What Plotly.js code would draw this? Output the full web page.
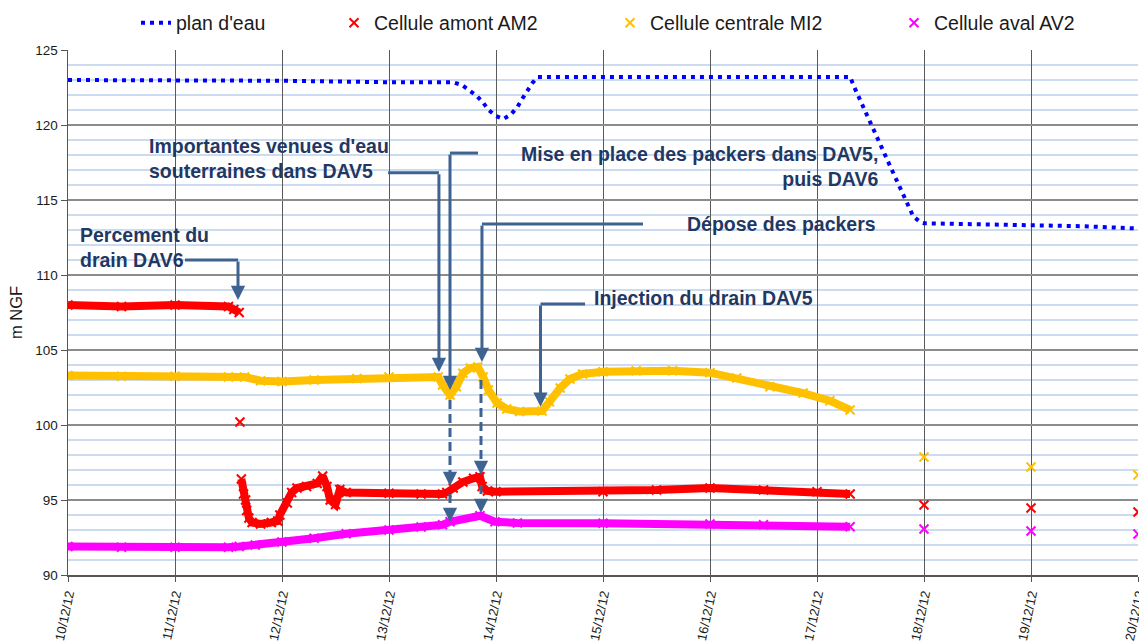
<!DOCTYPE html>
<html><head><meta charset="utf-8">
<script src="https://cdn.plot.ly/plotly-3.0.1.min.js"></script>
<style>html,body{margin:0;padding:0;background:#fff}#chart{width:1139px;height:642px}</style>
</head><body><div id="chart"></div>
<script>
// ---- data ----
const planX = ['2012-12-10 00:00','2012-12-11 00:00','2012-12-12 00:00','2012-12-13 00:00','2012-12-13 14:24','2012-12-13 16:20','2012-12-13 18:15','2012-12-13 19:40','2012-12-13 21:05','2012-12-13 22:20','2012-12-14 00:00','2012-12-14 01:40','2012-12-14 03:20','2012-12-14 04:48','2012-12-14 06:00','2012-12-14 07:00','2012-12-14 08:10','2012-12-14 09:20','2012-12-15 00:00','2012-12-16 00:00','2012-12-17 00:00','2012-12-17 07:26','2012-12-17 08:24','2012-12-17 12:00','2012-12-17 16:48','2012-12-17 21:36','2012-12-17 23:17','2012-12-18 00:00','2012-12-18 12:00','2012-12-19 00:00','2012-12-19 12:00','2012-12-20 00:00'];
const planY = [123.0,123.0,122.95,122.85,122.85,122.67,122.27,121.95,121.5,121.0,120.6,120.4,120.7,121.2,121.8,122.3,122.8,123.2,123.2,123.2,123.2,123.2,122.5,120.1,117.0,113.9,113.5,113.45,113.4,113.35,113.25,113.1];

const amontX = ['2012-12-10 00:00','2012-12-10 12:00','2012-12-11 00:00','2012-12-11 12:00','2012-12-11 13:12','2012-12-11 14:24','2012-12-11 14:30','2012-12-11 14:34','2012-12-11 14:40','2012-12-11 14:53','2012-12-11 15:22','2012-12-11 15:50','2012-12-11 16:05','2012-12-11 16:34','2012-12-11 17:17','2012-12-11 19:12','2012-12-11 21:36','2012-12-11 23:02','2012-12-11 23:31','2012-12-12 01:12','2012-12-12 02:10','2012-12-12 03:22','2012-12-12 05:31','2012-12-12 07:55','2012-12-12 09:07','2012-12-12 10:05','2012-12-12 10:48','2012-12-12 12:00','2012-12-12 12:58','2012-12-12 14:24','2012-12-13 00:00','2012-12-13 07:12','2012-12-13 12:00','2012-12-13 12:58','2012-12-13 14:24','2012-12-13 16:34','2012-12-13 18:58','2012-12-13 20:24','2012-12-13 20:53','2012-12-13 22:05','2012-12-14 00:00','2012-12-15 00:00','2012-12-15 12:00','2012-12-16 00:00','2012-12-16 12:00','2012-12-17 00:00','2012-12-17 07:26','2012-12-17 16:00','2012-12-18 00:00','2012-12-18 12:00','2012-12-19 00:00','2012-12-19 12:00','2012-12-20 00:00'];
const amontY = [108.0,107.9,108.0,107.9,107.7,107.5,null,100.2,null,96.4,95.4,95.0,94.3,93.8,93.5,93.4,93.5,93.6,94.0,94.8,95.5,95.8,95.9,96.1,96.6,95.9,95.0,94.7,95.7,95.5,95.45,95.4,95.4,95.5,95.8,96.2,96.45,96.55,95.9,95.6,95.55,95.55,95.67,95.8,95.67,95.55,95.4,null,94.67,null,94.47,null,94.2];

const centraleX = ['2012-12-10 00:00','2012-12-10 12:00','2012-12-11 00:00','2012-12-11 12:00','2012-12-11 15:36','2012-12-11 19:12','2012-12-12 00:00','2012-12-12 07:12','2012-12-12 16:48','2012-12-13 00:00','2012-12-13 11:02','2012-12-13 12:00','2012-12-13 13:41','2012-12-13 15:07','2012-12-13 16:34','2012-12-13 18:14','2012-12-13 19:55','2012-12-13 21:07','2012-12-13 22:19','2012-12-14 00:14','2012-12-14 02:24','2012-12-14 05:17','2012-12-14 10:19','2012-12-14 12:00','2012-12-14 14:24','2012-12-14 16:34','2012-12-14 19:26','2012-12-15 00:00','2012-12-15 07:26','2012-12-15 15:36','2012-12-16 00:00','2012-12-16 06:00','2012-12-16 13:26','2012-12-16 20:53','2012-12-17 02:53','2012-12-17 07:26','2012-12-17 16:00','2012-12-18 00:00','2012-12-18 12:00','2012-12-19 00:00','2012-12-19 12:00','2012-12-20 00:00'];
const centraleY = [103.3,103.25,103.25,103.2,103.2,102.95,102.9,103.0,103.1,103.2,103.2,102.67,102.0,102.55,103.45,103.8,103.87,103.2,102.33,101.47,101.07,100.9,100.93,101.55,102.47,103.07,103.4,103.55,103.62,103.62,103.49,103.13,102.55,102.13,101.62,101.0,null,97.87,null,97.2,null,96.67];

const avalX = ['2012-12-10 00:00','2012-12-10 12:00','2012-12-11 00:00','2012-12-11 12:00','2012-12-11 14:24','2012-12-11 18:00','2012-12-12 00:00','2012-12-12 07:12','2012-12-12 14:24','2012-12-13 00:00','2012-12-13 07:12','2012-12-13 12:00','2012-12-13 13:41','2012-12-13 20:24','2012-12-13 23:46','2012-12-14 04:48','2012-12-15 00:00','2012-12-16 00:00','2012-12-16 12:00','2012-12-17 07:26','2012-12-17 16:00','2012-12-18 00:00','2012-12-18 12:00','2012-12-19 00:00','2012-12-19 12:00','2012-12-20 00:00'];
const avalY = [91.9,91.85,91.85,91.85,91.9,92.0,92.2,92.45,92.75,93.0,93.2,93.35,93.55,93.95,93.55,93.47,93.45,93.4,93.35,93.22,null,93.07,null,92.93,null,92.73];

const seriesNames = ["plan d'eau", 'Cellule amont AM2', 'Cellule centrale MI2', 'Cellule aval AV2'];
const xRange = ['2012-12-10 00:00', '2012-12-20 00:00'];
const yRange = [90, 125];
const yTitle = 'm NGF';

// ---- styling ----
const FONT = '"Liberation Sans", Arial, sans-serif';
const ARROW = '#3f6391';
const NAVY = '#1f3864';

function band(x, y, color, name, leg) {
  return [
    {type:'scatter', mode:'lines', x:x, y:y, connectgaps:false, showlegend:false, hoverinfo:'skip',
     line:{color:color, width:8}},
    {type:'scatter', mode:'markers', x:x, y:y, name:name, legend:leg,
     marker:{symbol:'x-thin-open', size:9, color:color, line:{color:color, width:2}}}
  ];
}

const traces = [
  {type:'scatter', mode:'lines', x:planX, y:planY, name:seriesNames[0], legend:'legend',
   line:{color:'#0000ff', width:4, dash:'4px,5px'}},
  ...band(amontX, amontY, '#ff0000', seriesNames[1], 'legend2'),
  ...band(centraleX, centraleY, '#ffc000', seriesNames[2], 'legend3'),
  ...band(avalX, avalY, '#ff00ff', seriesNames[3], 'legend4')
];

// connectors (elbow lines) in data coordinates
function seg(x0, y0, x1, y1, dash) {
  return {type:'line', xref:'x', yref:'y', x0:x0, y0:y0, x1:x1, y1:y1,
          line:{color:ARROW, width:3, dash: dash || 'solid'}};
}
const shapes = [
  seg('2012-12-12 23:47', 116.82, '2012-12-13 11:12', 116.82),
  seg('2012-12-13 19:58', 118.13, '2012-12-13 13:41', 118.13),
  seg('2012-12-13 13:41', 101.67, '2012-12-13 13:41', 96.3, '9px,5px'),
  seg('2012-12-13 13:41', 95.4, '2012-12-13 13:41', 93.9, '9px,5px'),
  seg('2012-12-15 08:58', 113.4, '2012-12-13 20:51', 113.4),
  seg('2012-12-13 20:38', 103.0, '2012-12-13 20:38', 97.0, '9px,5px'),
  seg('2012-12-13 20:38', 96.0, '2012-12-13 20:38', 94.5, '9px,5px'),
  seg('2012-12-14 19:58', 108.07, '2012-12-14 09:59', 108.07),
  seg('2012-12-11 02:14', 111.0, '2012-12-11 14:08', 111.0)
];

function arrowDown(x, yTip, yTop) {
  const a = {x:x, y:yTip, xref:'x', yref:'y', text:'', showarrow:true,
             arrowhead:2, arrowsize:0.95, arrowwidth:3, arrowcolor:ARROW, standoff:0};
  if (yTop === undefined) { a.ax = 0; a.ay = -12; }
  else { a.axref = 'x'; a.ayref = 'y'; a.ax = x; a.ay = yTop; }
  return a;
}
function label(x, y, text, anchor) {
  return {x:x, y:y, xref:'x', yref:'y', text:text, showarrow:false,
          xanchor:anchor, yanchor:'middle', align:anchor,
          font:{family:FONT, size:19.5, color:NAVY, weight:'bold'}};
}

const annotations = [
  label('2012-12-10 17:43', 117.77, "Importantes venues d'eau<br>souterraines dans DAV5", 'left'),
  label('2012-12-17 14:08', 117.23, 'Mise en place des packers dans DAV5,<br>puis DAV6', 'right'),
  label('2012-12-17 13:41', 113.4, 'Dépose des packers', 'right'),
  label('2012-12-14 21:32', 108.47, 'Injection du drain DAV5', 'left'),
  label('2012-12-10 02:14', 111.83, 'Percement du<br>drain DAV6', 'left'),
  arrowDown('2012-12-13 11:12', 103.53, 116.82),
  arrowDown('2012-12-13 13:41', 102.33, 118.13),
  arrowDown('2012-12-13 13:41', 95.93),
  arrowDown('2012-12-13 13:41', 93.53),
  arrowDown('2012-12-13 20:51', 104.2, 113.4),
  arrowDown('2012-12-13 20:38', 96.67),
  arrowDown('2012-12-13 20:38', 94.13),
  arrowDown('2012-12-14 09:59', 101.22, 108.07),
  arrowDown('2012-12-11 14:08', 108.33, 111.0)
];

function leg(xpx) {
  return {xref:'container', yref:'container', x:xpx/1139, y:1-23/642, xanchor:'left', yanchor:'middle',
          orientation:'h', bgcolor:'rgba(0,0,0,0)', borderwidth:0,
          font:{family:FONT, size:19.5, color:'#1a1a1a'}};
}

const layout = {
  width:1139, height:642,
  margin:{l:68, r:1, t:50, b:67, autoexpand:false},
  paper_bgcolor:'#ffffff', plot_bgcolor:'#ffffff',
  font:{family:FONT, color:'#1a1a1a'},
  showlegend:true,
  legend:leg(136), legend2:leg(334), legend3:leg(610), legend4:leg(894),
  xaxis:{type:'date', range:xRange, dtick:86400000, tick0:'2012-12-10', tickformat:'%d/%m/%y',
         tickangle:-78, ticks:'outside', ticklen:5, tickcolor:'#555', tickwidth:1,
         showline:true, linecolor:'#555', linewidth:1.5, mirror:false, ticklabeloverflow:'allow',
         showgrid:true, gridcolor:'#5a5a5a', gridwidth:1, zeroline:false, automargin:false,
         tickfont:{family:FONT, size:13, color:'#1a1a1a'}},
  yaxis:{range:yRange, dtick:5, tick0:90, ticks:'outside', ticklen:6, tickcolor:'#555',
         showline:true, linecolor:'#555', linewidth:1.5,
         showgrid:true, gridcolor:'#8c8c8c', gridwidth:1.5, zeroline:false, automargin:false,
         minor:{dtick:1, showgrid:true, gridcolor:'#cbdbf0', gridwidth:1.3, ticks:''},
         tickfont:{family:FONT, size:13.5, color:'#1a1a1a'},
         title:{text:yTitle, font:{family:FONT, size:16.5, color:'#1a1a1a'}, standoff:8}},
  shapes:shapes,
  annotations:annotations
};

Plotly.newPlot('chart', traces, layout, {displayModeBar:false, staticPlot:true});
</script>
</body></html>
